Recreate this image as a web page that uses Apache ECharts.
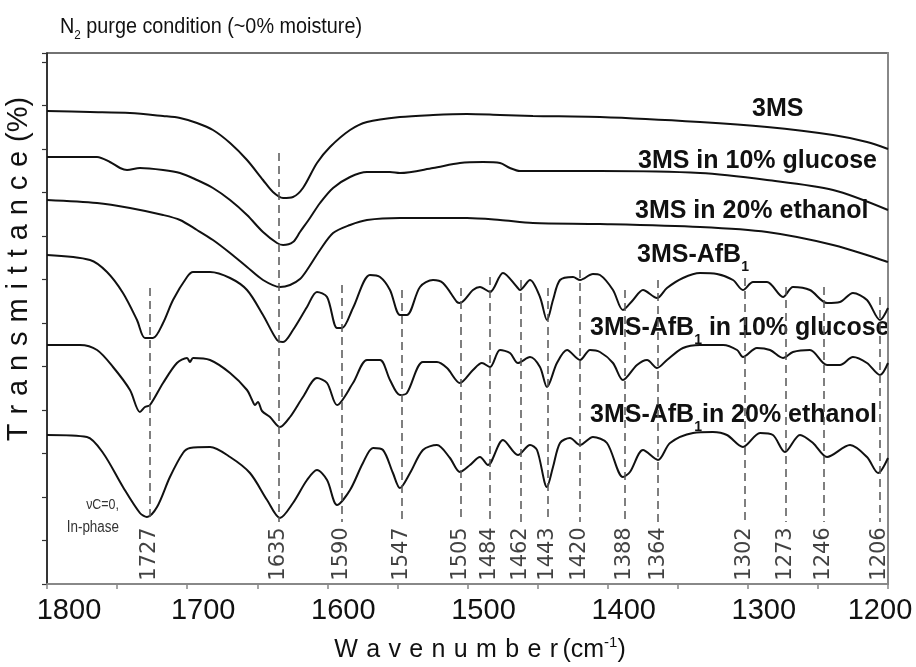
<!DOCTYPE html>
<html><head><meta charset="utf-8">
<script src="https://cdn.jsdelivr.net/npm/echarts/dist/echarts.min.js"></script>
<style>html,body{margin:0;padding:0;background:#fff}#c{width:916px;height:667px}</style>
</head><body><div id="c"></div>
<script>
// x: wavenumber (cm-1), y: offset transmittance (arbitrary units)
const s3MS = [[1800,473],[1769.3,472],[1740.8,471],[1717.2,468],[1705.1,466],[1693,461],[1681.6,454],[1669.4,441],[1657.3,424],[1645.9,404],[1638.8,392],[1631.6,386],[1624.5,387],[1617.4,396],[1607.4,421],[1598.1,437],[1583.8,454],[1571.7,462],[1548.2,467],[1524.6,469],[1500.4,470],[1476.8,469],[1453.3,468],[1405.5,467],[1334.1,462],[1286.3,457],[1239.2,449],[1215,442],[1200,435]];
const s3MSGlucose = [[1800,427],[1764.3,427],[1755.1,422],[1747.9,416],[1742.9,414],[1733.7,416],[1717.2,414],[1705.1,411],[1693,404],[1681.6,396],[1669.4,384],[1657.3,369],[1645.9,352],[1635.9,341],[1631.6,339],[1624.5,342],[1619.5,352],[1612.4,366],[1605.2,381],[1595.9,396],[1583.8,407],[1571.7,412],[1555.3,412],[1548.2,411],[1524.6,416],[1505.4,421],[1488.9,422],[1476.8,421],[1469.7,416],[1462.6,413],[1405.5,413],[1334.1,411],[1286.3,404],[1239.2,394],[1200,374]];
const s3MSEthanol = [[1800,384],[1764.3,381],[1740.8,376],[1717.2,369],[1705.1,364],[1693,354],[1681.6,344],[1669.4,331],[1657.3,317],[1645.9,304],[1633.8,297],[1626.6,299],[1619.5,305],[1614.5,314],[1605.2,334],[1595.9,351],[1583.8,359],[1571.7,364],[1548.2,366],[1500.4,366],[1476.8,364],[1453.3,361],[1405.5,360],[1334.1,357],[1286.3,352],[1239.2,339],[1200,322]];
const sAfB = [[1800,329],[1769.3,324],[1757.2,312],[1745.8,291],[1735.8,264],[1730.1,246],[1724.4,246],[1717.2,261],[1710.1,284],[1700.1,307],[1695.8,312],[1683.7,312],[1669.4,306],[1657.3,294],[1645.9,269],[1635.9,244],[1631.6,242],[1624.5,254],[1614.5,277],[1607.4,292],[1600.2,287],[1593.1,256],[1589.5,256],[1581.7,276],[1569.6,309],[1562.4,307],[1555.3,294],[1548.2,269],[1543.2,269],[1533.9,297],[1524.6,304],[1517.5,301],[1507.5,282],[1505.4,281],[1496.1,294],[1491.1,297],[1483.9,292],[1474.7,311],[1464.7,297],[1462.6,294],[1455.4,304],[1448.3,287],[1443.3,264],[1439,284],[1434,304],[1424.7,307],[1419.7,304],[1410.5,310],[1405.5,309],[1396.2,294],[1389.1,274],[1381.9,284],[1374.8,294],[1364.8,286],[1357.7,296],[1346.3,306],[1334.1,311],[1322,310],[1310.6,304],[1303.5,294],[1296.3,302],[1286.3,302],[1274.9,287],[1267.8,297],[1255.7,294],[1243.5,281],[1234.3,282],[1225,291],[1215,284],[1205.7,264],[1200,276]];
const sAfBGlucose = [[1800,239],[1776.5,239],[1764.3,234],[1752.9,217],[1740.8,194],[1733.7,172],[1730.1,177],[1726.5,179],[1717.2,201],[1707.3,221],[1700.1,226],[1698,222],[1695.8,226],[1683.7,224],[1669.4,211],[1657.3,194],[1653.7,184],[1651.6,179],[1649.5,182],[1646.6,173],[1640.9,167],[1633.8,157],[1626.6,167],[1617.4,187],[1607.4,206],[1600.2,201],[1593.1,179],[1581.7,201],[1571.7,224],[1562.4,224],[1555.3,204],[1548.2,189],[1543.2,191],[1531.8,222],[1521.8,222],[1514.6,216],[1505.4,201],[1496.1,214],[1489.7,221],[1483.9,217],[1476.8,234],[1469.7,231],[1464,221],[1455.4,227],[1448.3,217],[1443.3,197],[1436.2,221],[1429,234],[1419.7,224],[1412.6,234],[1405.5,232],[1396.2,221],[1389.1,204],[1379.1,219],[1371.9,224],[1364.8,216],[1357.7,224],[1346.3,236],[1334.1,239],[1317.7,239],[1307.7,234],[1303.5,227],[1293.5,236],[1284.2,234],[1274.9,226],[1267.8,232],[1255.7,234],[1243.5,219],[1234.3,219],[1225,227],[1215,221],[1205.7,209],[1200,221]];
const sAfBEthanol = [[1800,149],[1771.5,147],[1760,131],[1745.8,97],[1733.7,71],[1728.7,67],[1721.5,77],[1712.3,107],[1703,131],[1698,136],[1683.7,137],[1669.4,127],[1655.2,111],[1643,84],[1633.8,66],[1624.5,81],[1614.5,104],[1607.4,114],[1600.2,104],[1593.1,79],[1583.8,94],[1574.6,121],[1567.4,136],[1560.3,134],[1553.2,111],[1548.2,96],[1541,111],[1531.8,134],[1521.8,139],[1512.5,126],[1505.4,112],[1498.2,119],[1491.1,127],[1485.4,119],[1474.7,144],[1464,129],[1455.4,139],[1450.4,134],[1443.3,97],[1439,117],[1434,141],[1426.9,146],[1419.7,139],[1410.5,147],[1400.5,141],[1389.1,107],[1384.1,112],[1374.8,134],[1364.1,124],[1355.5,141],[1339.1,151],[1324.9,152],[1314.9,149],[1303.5,137],[1291.3,151],[1282.1,149],[1273.5,132],[1262.8,149],[1253.5,141],[1243.5,127],[1227.1,139],[1215,127],[1207.1,111],[1200,126]];

const seriesNames = ['3MS','3MS in 10% glucose','3MS in 20% ethanol','3MS-AfB1','3MS-AfB1 in 10% glucose','3MS-AfB1 in 20% ethanol'];
const seriesData = [s3MS, s3MSGlucose, s3MSEthanol, sAfB, sAfBGlucose, sAfBEthanol];

const peakLabels = [1727,1635,1590,1547,1505,1484,1462,1443,1420,1388,1364,1302,1273,1246,1206];
const peakLineTops = [296,431,299,294,296,307,304,296,314,294,304,306,297,297,287];
const peakLineBottom = 62;
const peakLabelY = 30;

const xTicks = [1800,1700,1600,1500,1400,1300,1200];

const chart = echarts.init(document.getElementById('c'), null, {renderer:'canvas'});
const SANS = '"Liberation Sans", Arial, sans-serif';

const lineSeries = seriesData.map((d, i) => ({
  type: 'line', name: seriesNames[i], data: d, showSymbol: false, smooth: 0.3,
  lineStyle: {color: '#111', width: 2}, silent: true, z: 3
}));

lineSeries.push({
  type: 'line', data: [], silent: true,
  markLine: {
    silent: true, symbol: 'none', label: {show: false},
    lineStyle: {color: '#555', width: 1.5, type: [8, 5]},
    data: peakLabels.map((w, i) => [{coord: [w, peakLineTops[i]]}, {coord: [w, peakLineBottom]}])
  }
});
lineSeries.push({
  type: 'scatter', silent: true, symbolSize: 1, itemStyle: {color: 'rgba(0,0,0,0)'},
  data: peakLabels.map(w => [w, peakLabelY]),
  label: {show: true, position: 'inside', rotate: 90, formatter: p => String(p.value[0]),
    fontFamily: '"DejaVu Sans", sans-serif', fontSize: 21, color: '#111'}
});

function labelText(x, y, text, align) {
  return {type: 'text', x: x, y: y, silent: true, style: {
    text: text, font: 'bold 25px ' + SANS, fill: '#111', textAlign: align || 'left', textVerticalAlign: 'middle',
    rich: {sub: {font: 'bold 14px ' + SANS, fill: '#111', padding: [24, 0, 0, 0]}}
  }};
}

const yTitle = 'Transmittance'.split('').join('{g|  }') + '{g|  }(%)';
const xTitle = 'Wavenumber'.split('').join('{g|  }') + '{h| }(cm{sup|-1})';

chart.setOption({
  animation: false,
  backgroundColor: '#fff',
  grid: {left: 47, right: 28, top: 53, bottom: 83, show: true, borderColor: '#444', borderWidth: 1.5},
  xAxis: {
    type: 'value', inverse: true, min: 1200, max: 1800, interval: 50,
    axisLine: {show: true, lineStyle: {color: '#888', width: 2}},
    axisTick: {show: true, length: 5, lineStyle: {color: '#888', width: 1.5}},
    splitLine: {show: false},
    axisLabel: {
      show: true, margin: 12, showMinLabel: true, showMaxLabel: true,
      fontFamily: SANS, fontSize: 29, color: '#111', padding: [0, 0, 0, 32],
      formatter: v => xTicks.indexOf(v) < 0 ? '' : (v === 1200 ? '{e|1200}' : (v === 1800 ? '{s|1800}' : String(v))),
      rich: {
        e: {fontFamily: SANS, fontSize: 29, color: '#111', padding: [0, 48, 0, 0]},
        s: {fontFamily: SANS, fontSize: 29, color: '#111', padding: [0, 0, 0, 12]}
      }
    }
  },
  yAxis: [{
    type: 'value', min: 0, max: 531, interval: 43.5,
    axisLine: {show: true, lineStyle: {color: '#222', width: 1.5}},
    axisTick: {show: true, length: 5, lineStyle: {color: '#333', width: 1.2}},
    axisLabel: {show: false}, splitLine: {show: false}
  }, {
    type: 'value', min: 0, max: 531, position: 'right',
    axisLine: {show: true, lineStyle: {color: '#888', width: 2}},
    axisTick: {show: false}, axisLabel: {show: false}, splitLine: {show: false}
  }],
  series: lineSeries,
  graphic: [
    {type: 'text', x: 60, y: 27, scaleX: 0.9, silent: true, style: {
      text: 'N{sub|2} purge condition (~0% moisture)', font: '22px ' + SANS, fill: '#111',
      textAlign: 'left', textVerticalAlign: 'middle',
      rich: {sub: {font: '13px ' + SANS, fill: '#111', padding: [16, 0, 0, 0]}}
    }},
    labelText(752, 109, '3MS'),
    labelText(638, 161, '3MS in 10% glucose'),
    labelText(635, 211, '3MS in 20% ethanol'),
    labelText(637, 255, '3MS-AfB{sub|1}'),
    labelText(590, 328, '3MS-AfB{sub|1} in 10% glucose'),
    labelText(590, 415, '3MS-AfB{sub|1}in 20% ethanol'),
    {type: 'text', x: 119, y: 505, scaleX: 0.83, silent: true, style: {text: 'νC=0,', font: '15px ' + SANS, fill: '#333', textAlign: 'right', textVerticalAlign: 'middle'}},
    {type: 'text', x: 119, y: 528, scaleX: 0.84, silent: true, style: {text: 'In-phase', font: '16px ' + SANS, fill: '#333', textAlign: 'right', textVerticalAlign: 'middle'}},
    {type: 'text', x: 480, y: 650, silent: true, style: {
      text: xTitle, font: '25px ' + SANS, fill: '#111', textAlign: 'center', textVerticalAlign: 'middle',
      rich: {g: {font: '15px ' + SANS, fill: '#111'}, h: {font: '16px ' + SANS, fill: '#111'},
             sup: {font: '15px ' + SANS, fill: '#111', padding: [0, 0, 14, 0]}}
    }},
    {type: 'text', x: 19, y: 269, rotation: Math.PI / 2, silent: true, style: {
      text: yTitle, font: '29px ' + SANS, fill: '#111', textAlign: 'center', textVerticalAlign: 'middle',
      rich: {g: {font: '16px ' + SANS, fill: '#111'}}
    }}
  ]
});
</script></body></html>
